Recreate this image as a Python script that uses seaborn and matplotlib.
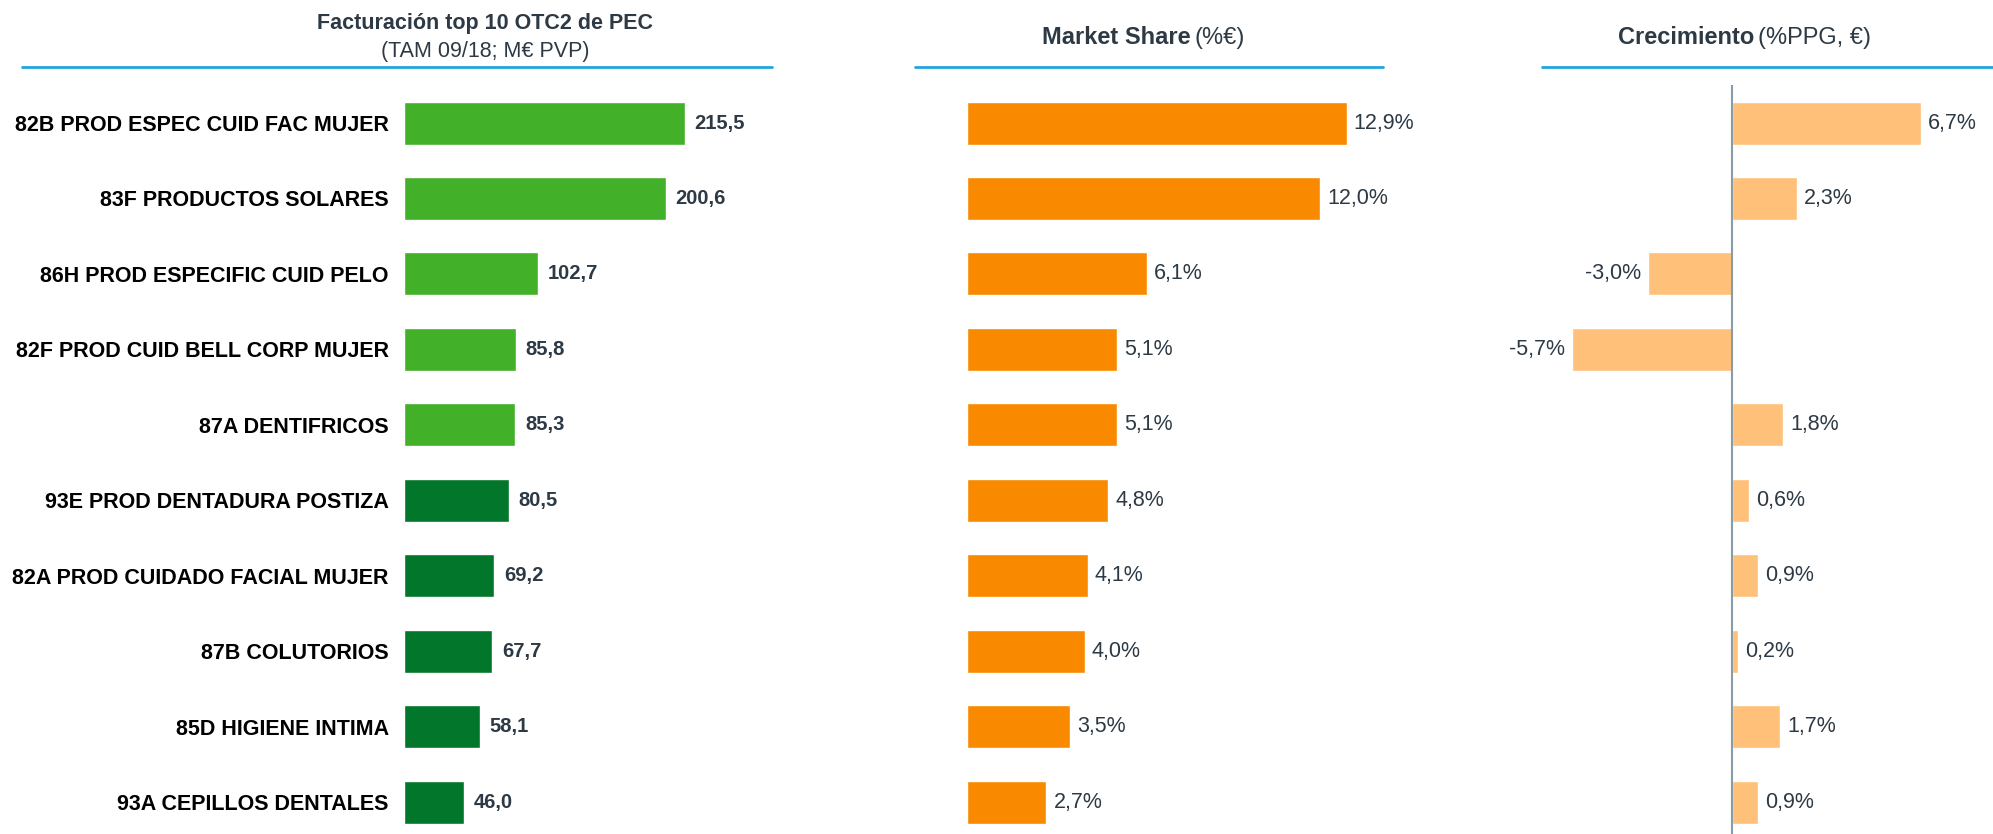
import seaborn as sns
from matplotlib import pyplot as plt
from pandas import DataFrame

categories = ['82B PROD ESPEC CUID FAC MUJER', '83F PRODUCTOS SOLARES', '86H PROD ESPECIFIC CUID PELO',
              '82F PROD CUID BELL CORP MUJER', '87A DENTIFRICOS', '93E PROD DENTADURA POSTIZA',
              '82A PROD CUIDADO FACIAL MUJER', '87B COLUTORIOS', '85D HIGIENE INTIMA', '93A CEPILLOS DENTALES']
facturacion = [215.5, 200.6, 102.7, 85.8, 85.3, 80.5, 69.2, 67.7, 58.1, 46.0]
market_share = [12.9, 12.0, 6.1, 5.1, 5.1, 4.8, 4.1, 4.0, 3.5, 2.7]
crecimiento = [6.7, 2.3, -3.0, -5.7, 1.8, 0.6, 0.9, 0.2, 1.7, 0.9]
group = ['a'] * 5 + ['b'] * 5

W, H = 1993, 834
TEXT = '#2D3A45'
LINE = '#22A5DD'
LIGHT_GREEN, DARK_GREEN = '#43B02A', '#02762A'
ORANGE, LIGHT_ORANGE = '#F98A00', '#FFC17A'

sns.set_theme(style='white')
plt.rcParams['font.family'] = ['Liberation Sans', 'DejaVu Sans']

df = DataFrame({'cat': categories, 'fact': facturacion, 'ms': market_share,
                'crec': crecimiento, 'group': group})

fig = plt.figure(figsize=(W / 100, H / 100), dpi=100)


def make_axes(left_px, width_px):
    top_px, bottom_px = 85.3, 839.9
    return fig.add_axes([left_px / W, 1 - bottom_px / H, width_px / W, (bottom_px - top_px) / H])


def fmt(v, pct=False):
    s = f'{v:.1f}'.replace('.', ',')
    return s + '%' if pct else s


# panel 1: facturacion
ax1 = make_axes(404, 326)
sns.barplot(df, x='fact', y='cat', hue='group', palette={'a': LIGHT_GREEN, 'b': DARK_GREEN},
            width=0.57, legend=False, dodge=False, ax=ax1, saturation=1)
ax1.set_xlim(0, 250)
for i, v in enumerate(facturacion):
    ax1.annotate(fmt(v), (v, i), xytext=(7, 0), textcoords='offset points', ha='left', va='center',
                 fontsize=14.5, fontweight='bold', color=TEXT)
ax1.tick_params(axis='y', length=0, pad=11, labelsize=15.5)
for lab in ax1.get_yticklabels():
    lab.set_fontweight('bold')
    lab.set_color('black')

# panel 2: market share
ax2 = make_axes(967, 471)
sns.barplot(df, x='ms', y='cat', color=ORANGE, width=0.57, ax=ax2, saturation=1)
ax2.set_xlim(0, 16)
for i, v in enumerate(market_share):
    ax2.annotate(fmt(v, True), (v, i), xytext=(5, 0), textcoords='offset points', ha='left', va='center',
                 fontsize=15.5, color=TEXT)

# panel 3: crecimiento
ax3 = make_axes(1507, 479)
sns.barplot(df, x='crec', y='cat', color=LIGHT_ORANGE, width=0.57, ax=ax3, saturation=1)
ax3.set_xlim(-8, 9)
ax3.axvline(0, color='#8A9BA8', lw=1.5, zorder=3)
for i, v in enumerate(crecimiento):
    ax3.annotate(fmt(v, True), (v, i), xytext=(5 if v >= 0 else -5, 0), textcoords='offset points',
                 ha='left' if v >= 0 else 'right', va='center',
                 fontsize=15.5, color=TEXT)

for ax in (ax1, ax2, ax3):
    ax.set_ylim(9.5, -0.5)
    ax.set_xlabel('')
    ax.set_ylabel('')
    ax.set_xticks([])
    sns.despine(ax=ax, left=True, bottom=True)
for ax in (ax2, ax3):
    ax.set_yticks([])
    ax.patch.set_alpha(0)

# headers
fig.text(485 / W, 1 - 23 / H, 'Facturación top 10 OTC2 de PEC', ha='center', va='center',
         fontsize=15.5, fontweight='bold', color=TEXT)
fig.text(485 / W, 1 - 51 / H, '(TAM 09/18; M€ PVP)', ha='center', va='center', fontsize=15.5, color=TEXT)
fig.text(1191 / W, 1 - 38 / H, 'Market Share', ha='right', va='center', fontsize=17,
         fontweight='bold', color=TEXT)
fig.text(1195 / W, 1 - 38 / H, '(%€)', ha='left', va='center', fontsize=17, color=TEXT)
fig.text(1754 / W, 1 - 38 / H, 'Crecimiento', ha='right', va='center', fontsize=17,
         fontweight='bold', color=TEXT)
fig.text(1758 / W, 1 - 38 / H, '(%PPG, €)', ha='left', va='center', fontsize=17, color=TEXT)
for x0, x1 in [(22, 772), (915, 1383), (1542, 1993)]:
    fig.add_artist(plt.Line2D([x0 / W, x1 / W], [1 - 67 / H, 1 - 67 / H], color=LINE, lw=2))

plt.savefig('out.png', dpi=100)
